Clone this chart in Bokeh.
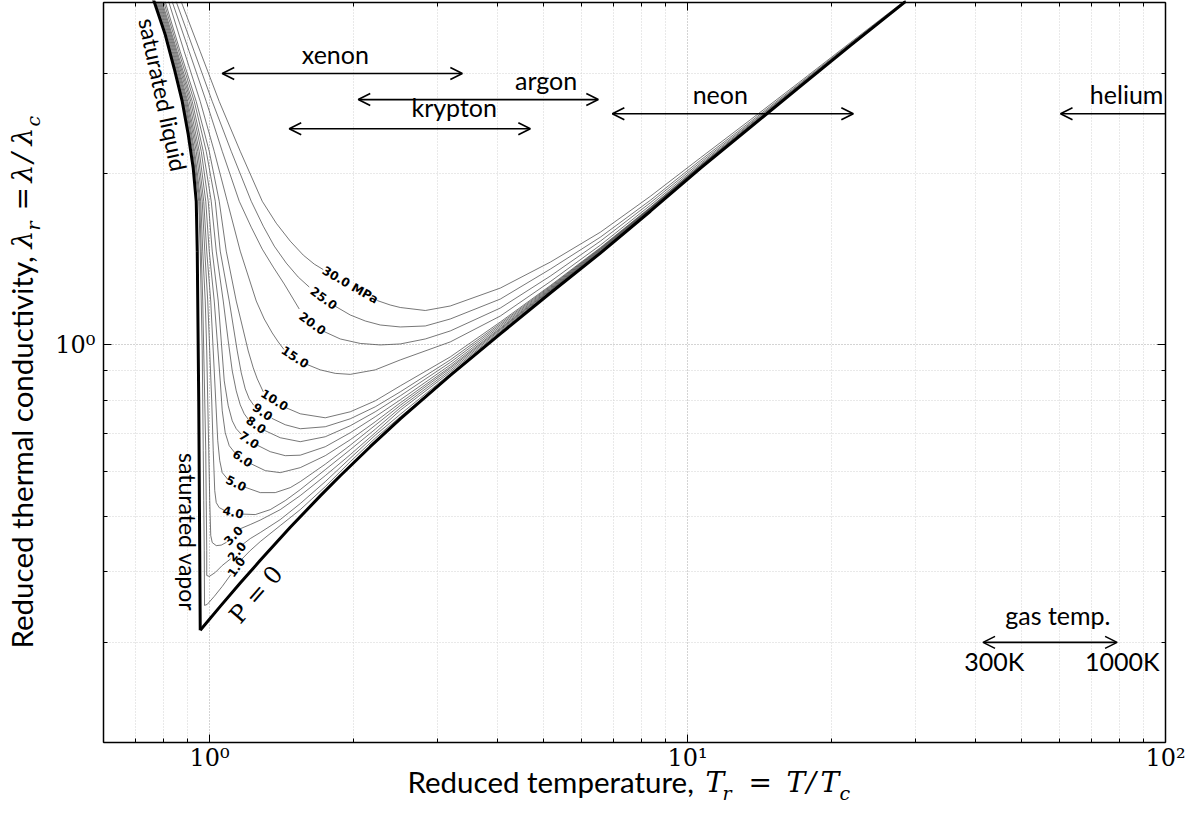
import math
from bokeh.plotting import figure
from bokeh.models import Range1d, LogAxis, FixedTicker, CustomJSTickFormatter, Label, Arrow, OpenHead
from bokeh.embed import file_html
from bokeh.resources import INLINE

nan = float("nan")

# ---------------- data (reduced temperature Tr, reduced conductivity lambda_r) ----------------
HI_TR = [3.189, 4.059, 5.165, 6.572, 8.361, 10.64, 13.53, 17.22, 21.91, 28.57]

SAT_LIQ_TR = [0.7513, 0.7660, 0.8077, 0.8435, 0.8767, 0.9025, 0.9245, 0.9379, 0.9425]
SAT_LIQ_LAM = [4.2125, 4.013, 3.5125, 3.0619, 2.680, 2.3449, 2.0443, 1.789, 1.462]
SAT_VAP_TR = [0.9425, 0.9493, 0.9562]
SAT_VAP_LAM = [1.462, 0.7975, 0.3150]
P0_TR = [0.9562, 1.0529, 1.1594, 1.2768, 1.4753, 1.7047, 1.8772, 2.1686, 2.5063, 3.1892,
         4.0588, 5.1651, 6.5722, 8.3612, 10.636, 13.532, 17.218, 21.909, 28.565]
P0_LAM = [0.3150, 0.3470, 0.3814, 0.4181, 0.4779, 0.5428, 0.5888, 0.6623, 0.7413, 0.8838,
          1.0459, 1.2339, 1.4502, 1.7182, 2.0443, 2.4130, 2.8476, 3.3598, 4.0134]

TR_01 = [0.7697, 0.8274, 0.8831, 0.9222, 0.9493, 0.9562, 0.9608, 0.9654, 0.9678, 0.9701,
         0.9724, 0.9748, 0.9762, 0.9890, 1.0229, 1.0631, 1.1074, nan, 1.1679, 1.2167, 1.2768,
         1.4059, 1.5481, 1.7463, 1.9697, 2.2215, 2.5063] + HI_TR
LAM_01 = [4.013, 3.279, 2.680, 2.190, 1.789, 1.462, 1.1945, 0.9760, 0.7975, 0.6518,
          0.5325, 0.4350, 0.3484, 0.3498, 0.3613, 0.3762, 0.3944, nan, 0.4200, 0.4350, 0.4511,
          0.4813, 0.5134, 0.5635, 0.6234, 0.6855, 0.7476,
          0.8849, 1.0496, 1.2369, 1.4531, 1.7209, 2.0468, 2.4149, 2.8487, 3.3611, 4.0150]

TR_02 = [0.7734, 0.8314, 0.8874, 0.9267, 0.9539, 0.9608, 0.9678, 0.9724, 0.9772, 0.9819,
         0.9842, 0.9866, 0.9866, 0.9986, 1.0279, 1.0631, 1.1069, nan, 1.1741, 1.2167, 1.2768,
         1.4059, 1.5481, 1.7463, 1.9697, 2.2215, 2.5063] + HI_TR
LAM_02 = [4.013, 3.279, 2.680, 2.190, 1.789, 1.462, 1.1945, 0.9760, 0.7975, 0.6518,
          0.5325, 0.4350, 0.3933, 0.3917, 0.3981, 0.4095, 0.4207, nan, 0.4462, 0.4566, 0.4679,
          0.4931, 0.5261, 0.5750, 0.6323, 0.6938, 0.7552,
          0.8899, 1.0534, 1.2404, 1.4560, 1.7234, 2.0484, 2.4169, 2.8504, 3.3618, 4.0150]

TR_03 = [0.7771, 0.8354, 0.8917, 0.9312, 0.9585, 0.9678, 0.9795, 0.9866, 0.9914, 0.9962,
         1.0010, 1.0058, 1.0131, 1.0328, 1.0580, 1.0853, nan, 1.1578, 1.2167, 1.2768, 1.4059,
         1.5481, 1.7463, 1.9697, 2.2215, 2.5063] + HI_TR
LAM_03 = [4.013, 3.279, 2.680, 2.190, 1.789, 1.462, 1.1945, 0.9760, 0.7975, 0.6518,
          0.5325, 0.4623, 0.4493, 0.4438, 0.4447, 0.4498, nan, 0.4749, 0.4833, 0.4921, 0.5134,
          0.5434, 0.5891, 0.6413, 0.7008, 0.7675,
          0.8960, 1.0569, 1.2434, 1.4590, 1.7259, 2.0508, 2.4188, 2.8516, 3.3625, 4.0150]

TR_04 = [0.7809, 0.8394, 0.8960, 0.9379, 0.9654, 0.9772, 0.9914, 1.0010, 1.0106, 1.0180,
         1.0254, 1.0328, 1.0478, 1.0718, nan, 1.1724, 1.2464, 1.3397, 1.4402, 1.5481, 1.7463,
         1.9697, 2.2215, 2.5063] + HI_TR
LAM_04 = [4.013, 3.279, 2.680, 2.190, 1.789, 1.462, 1.1945, 0.9760, 0.7975, 0.6518,
          0.5544, 0.5282, 0.5176, 0.5124, nan, 0.5042, 0.5032, 0.5134, 0.5325, 0.5567, 0.6036,
          0.6544, 0.7109, 0.7753,
          0.9025, 1.0624, 1.2470, 1.4619, 1.7287, 2.0535, 2.4207, 2.8533, 3.3632, 4.0150]

TR_05 = [0.7847, 0.8435, 0.9003, 0.9447, 0.9724, 0.9866, 1.0058, 1.0180, 1.0303, 1.0403,
         1.0504, 1.0631, 1.0911, nan, 1.1854, 1.2768, 1.3724, 1.4753, 1.5481, 1.7463, 1.9697,
         2.2215, 2.5063] + HI_TR
LAM_05 = [4.013, 3.279, 2.680, 2.190, 1.789, 1.462, 1.1945, 0.9760, 0.7975, 0.6786,
          0.6259, 0.5963, 0.5809, nan, 0.5623, 0.5500, 0.5500, 0.5612, 0.5750, 0.6171, 0.6664,
          0.7224, 0.7832,
          0.9095, 1.0667, 1.2499, 1.4648, 1.7314, 2.0560, 2.4227, 2.8544, 3.3638, 4.0158]

TR_06 = [0.7885, 0.8476, 0.9068, 0.9516, 0.9819, 0.9986, 1.0229, 1.0378, 1.0529, 1.0631,
         1.0785, 1.0996, 1.1291, nan, 1.2196, 1.3079, 1.4059, 1.5481, 1.7463, 1.9697, 2.2215,
         2.5063] + HI_TR
LAM_06 = [4.013, 3.279, 2.680, 2.190, 1.789, 1.462, 1.1945, 1.0163, 0.8646, 0.7660,
          0.7008, 0.6650, 0.6465, nan, 0.6184, 0.6012, 0.5963, 0.6085, 0.6387, 0.6813, 0.7327,
          0.7911,
          0.9150, 1.0710, 1.2540, 1.4685, 1.7342, 2.0584, 2.4248, 2.8561, 3.3652, 4.0158]

TR_07 = [0.7923, 0.8517, 0.9134, 0.9608, 0.9937, 1.0131, 1.0428, 1.0580, 1.0734, 1.0943,
         1.1156, 1.1373, 1.1651, nan, 1.2585, 1.3397, 1.4402, 1.5481, 1.7463, 1.9697, 2.2215,
         2.5063] + HI_TR
LAM_07 = [4.013, 3.279, 2.680, 2.190, 1.789, 1.462, 1.1945, 1.0163, 0.8646, 0.7816,
          0.7356, 0.7123, 0.6966, nan, 0.6664, 0.6491, 0.6387, 0.6400, 0.6623, 0.7008, 0.7476,
          0.8007,
          0.9225, 1.0775, 1.2581, 1.4720, 1.7371, 2.0609, 2.4268, 2.8579, 3.3652, 4.0166]

TR_08 = [0.7961, 0.8558, 0.9201, 0.9701, 1.0082, 1.0328, 1.0683, 1.0943, 1.1156, 1.1373,
         1.1594, 1.1820, 1.2050, nan, 1.3016, 1.4059, 1.5481, 1.7463, 1.9697, 2.2215,
         2.5063] + HI_TR
LAM_08 = [4.013, 3.279, 2.680, 2.190, 1.789, 1.462, 1.1945, 1.0163, 0.9003, 0.8304,
          0.7848, 0.7567, 0.7401, nan, 0.7079, 0.6868, 0.6759, 0.6896, 0.7210, 0.7629, 0.8138,
          0.9318, 1.0841, 1.2627, 1.4756, 1.7399, 2.0633, 2.4287, 2.8590, 3.3665, 4.0166]

TR_09 = [0.8019, 0.8620, 0.9290, 0.9842, 1.0279, 1.0529, 1.0996, 1.1210, 1.1428, 1.1651,
         1.1877, 1.2108, 1.2374, nan, 1.3494, 1.4402, 1.5481, 1.7463, 1.9697, 2.2215,
         2.5063] + HI_TR
LAM_09 = [4.013, 3.279, 2.680, 2.190, 1.789, 1.462, 1.1945, 1.0798, 0.9760, 0.8931,
          0.8372, 0.8040, 0.7832, nan, 0.7431, 0.7239, 0.7123, 0.7181, 0.7416, 0.7784, 0.8271,
          0.9413, 1.0907, 1.2672, 1.4792, 1.7426, 2.0660, 2.4306, 2.8604, 3.3679, 4.0174]

TR_10 = [0.8077, 0.8683, 0.9379, 0.9986, 1.0478, 1.0838, 1.1373, 1.1707, 1.2050, 1.2344,
         1.2585, 1.2954, nan, 1.4471, 1.5481, 1.7463, 1.9697, 2.2215, 2.5063] + HI_TR
LAM_10 = [4.013, 3.279, 2.680, 2.190, 1.789, 1.462, 1.1945, 1.0798, 0.9760, 0.9113,
          0.8716, 0.8271, nan, 0.7753, 0.7567, 0.7446, 0.7629, 0.7975, 0.8473,
          0.9527, 1.0974, 1.2718, 1.4828, 1.7462, 2.0692, 2.4325, 2.8627, 3.3692, 4.0182]

TR_15 = [0.8214, 0.8853, 0.9562, 1.0229, 1.0890, 1.1594, 1.2524, 1.3016, 1.3526, 1.3924,
         1.4312, nan, 1.5958, 1.7047, 1.8326, 1.9697, 2.2215, 2.5063] + HI_TR
LAM_15 = [4.013, 3.279, 2.680, 2.190, 1.789, 1.462, 1.1945, 1.1106, 1.0497, 1.0122,
          0.9816, nan, 0.9247, 0.9040, 0.8913, 0.8877, 0.9040, 0.9412,
          1.0123, 1.1243, 1.2925, 1.4979, 1.7603, 2.0801, 2.4424, 2.8707, 3.3763, 4.0230]

TR_20 = [0.8354, 0.9068, 0.9842, 1.0631, 1.1539, 1.2225, 1.2891, 1.3593, 1.4333, 1.4967,
         1.5407, nan, 1.7328, 1.8772, 2.0668, 2.2756, 2.5063, 2.8276] + HI_TR
LAM_20 = [4.013, 3.279, 2.680, 2.190, 1.789, 1.6107, 1.4738, 1.3705, 1.2796, 1.2043,
          1.1565, nan, 1.0565, 1.0245, 1.0061, 1.0000, 1.0040, 1.0245,
          1.0583, 1.1612, 1.3216, 1.5223, 1.7782, 2.0944, 2.4523, 2.8764, 3.3816, 4.0262]

TR_25 = [0.8517, 0.9290, 1.0131, 1.1102, 1.2225, 1.2954, 1.3658, 1.4471, 1.5333, 1.6167,
         nan, 1.8273, 1.9697, 2.1177, 2.2756, 2.5063, 2.8276] + HI_TR
LAM_25 = [4.013, 3.279, 2.680, 2.190, 1.789, 1.6172, 1.4918, 1.3929, 1.3161, 1.2641,
          nan, 1.1712, 1.1289, 1.1018, 1.0841, 1.0755, 1.0798,
          1.1108, 1.2042, 1.3595, 1.5471, 1.7962, 2.1116, 2.4673, 2.8880, 3.3870, 4.0295]

TR_30 = [0.8725, 0.9562, 1.0478, 1.1594, 1.2891, 1.3791, 1.4753, 1.5708, 1.6561, 1.7295,
         nan, 2.2429, 2.3880, 2.5063, 2.8276] + HI_TR
LAM_30 = [4.013, 3.279, 2.680, 2.190, 1.789, 1.6368, 1.5222, 1.4384, 1.3871, 1.3567,
          nan, 1.1969, 1.1755, 1.1637, 1.1496,
          1.1708, 1.2590, 1.3985, 1.5785, 1.8254, 2.1328, 2.4871, 2.9057, 3.4008, 4.0379]

ISOBAR_TR = [TR_01, TR_02, TR_03, TR_04, TR_05, TR_06, TR_07, TR_08, TR_09, TR_10, TR_15, TR_20, TR_25, TR_30]
ISOBAR_LAM = [LAM_01, LAM_02, LAM_03, LAM_04, LAM_05, LAM_06, LAM_07, LAM_08, LAM_09, LAM_10, LAM_15, LAM_20, LAM_25, LAM_30]

# isobar labels (MPa)
ISO_LABELS = ["1.0", "2.0", "3.0", "4.0", "5.0", "6.0", "7.0", "8.0", "9.0", "10.0", "15.0", "20.0", "25.0", "30.0 MPa"]
ISO_LABEL_TR = [1.137, 1.140, 1.121, 1.121, 1.137, 1.174, 1.211, 1.252, 1.292, 1.369, 1.511, 1.644, 1.734, 1.970]
ISO_LABEL_LAM = [0.407, 0.4332, 0.4624, 0.5083, 0.5715, 0.632, 0.681, 0.724, 0.763, 0.8006, 0.9527, 1.091, 1.209, 1.274]

# gas temperature ranges (300 K .. 1000 K) in reduced temperature
GAS_NAMES = ["xenon", "krypton", "argon", "neon", "helium"]
GAS_TR_LO = [1.063, 1.468, 2.047, 6.962, 60.3]
GAS_TR_HI = [3.380, 4.690, 6.507, 22.23, 100.0]
GAS_LAM = [3.0, 2.4, 2.7, 2.55, 2.55]

X_MAJOR = [1, 10, 100]
X_MINOR = [0.6, 0.7, 0.8, 0.9, 2, 3, 4, 5, 6, 7, 8, 9, 20, 30, 40, 50, 60, 70, 80, 90]
Y_MAJOR = [1]
Y_MINOR = [0.2, 0.3, 0.4, 0.5, 0.6, 0.7, 0.8, 0.9, 2, 3, 4]
MAJOR_TEXT = ["10\u2070", "10\u00b9", "10\u00b2"]

# ---------------- layout: the plot box sits inside a full-canvas frame ----------------
X0, X1, Y0, Y1 = 0.6, 100.0, 0.2, 4.0          # plot box limits
CW, CH = 1202, 820                              # canvas
BL, BR, BT, BB = 103, 1165, 2, 742              # plot box edges on the canvas
lx0, lx1, ly0, ly1 = math.log10(X0), math.log10(X1), math.log10(Y0), math.log10(Y1)
dpx = (BR - BL) / (lx1 - lx0)
dpy = (BB - BT) / (ly1 - ly0)
XMIN, XMAX = 10 ** (lx0 - BL / dpx), 10 ** (lx1 + (CW - BR) / dpx)
YMIN, YMAX = 10 ** (ly0 - (CH - BB) / dpy), 10 ** (ly1 + BT / dpy)

p = figure(frame_width=CW, frame_height=CH, x_axis_type="log", y_axis_type="log",
           x_range=Range1d(XMIN, XMAX), y_range=Range1d(YMIN, YMAX), min_border=0,
           output_backend="svg", toolbar_location=None)
p.background_fill_color = "white"
p.border_fill_color = "white"
p.outline_line_color = None

x_ticker = FixedTicker(ticks=X_MAJOR, minor_ticks=X_MINOR)
y_ticker = FixedTicker(ticks=Y_MAJOR, minor_ticks=Y_MINOR)
fmt = CustomJSTickFormatter(args=dict(vals=X_MAJOR, txt=MAJOR_TEXT), code="""
for (let i = 0; i < vals.length; i++) { if (Math.abs(tick - vals[i]) < 1e-6 * vals[i]) return txt[i]; }
return "";
""")
blank = CustomJSTickFormatter(code="return '';")

def style_axis(ax, tk, loc, bounds, labels=True):
    ax.ticker = tk
    ax.fixed_location = loc
    ax.bounds = bounds
    ax.major_tick_in = 8
    ax.major_tick_out = 0
    ax.minor_tick_in = 4
    ax.minor_tick_out = 0
    ax.axis_line_width = 1.5
    ax.axis_line_color = "black"
    ax.major_tick_line_width = 1
    ax.minor_tick_line_width = 1
    if labels:
        ax.formatter = fmt
        ax.major_label_text_font = "DejaVu Serif"
        ax.major_label_text_font_size = "24px"
        ax.major_label_text_color = "black"
    else:
        ax.formatter = blank
        ax.major_label_text_font_size = "0px"
        ax.major_label_standoff = 0

style_axis(p.xaxis[0], x_ticker, Y0, (X0, X1))
style_axis(p.yaxis[0], y_ticker, X0, (Y0, Y1))
p.xaxis[0].major_label_standoff = 1
p.yaxis[0].major_label_standoff = 8
top_ax = LogAxis()
style_axis(top_ax, x_ticker, Y1, (X0, X1), labels=False)
p.add_layout(top_ax, "above")
right_ax = LogAxis()
style_axis(right_ax, y_ticker, X1, (Y0, Y1), labels=False)
p.add_layout(right_ax, "right")

xg, yg = p.xgrid[0], p.ygrid[0]
xg.ticker, yg.ticker = x_ticker, y_ticker
xg.bounds, yg.bounds = (X0, X1), (Y0, Y1)
if "cross_bounds" in xg.properties():
    xg.cross_bounds, yg.cross_bounds = (Y0, Y1), (X0, X1)
    for g in (xg, yg):
        g.grid_line_color = "#a8a8a8"
        g.grid_line_dash = "1 2"
        g.grid_line_width = 1
        g.minor_grid_line_color = "#d2d2d2"
        g.minor_grid_line_dash = "1 2"
        g.minor_grid_line_width = 1
else:
    xg.visible = False
    yg.visible = False
    gx_major = [t for t in X_MAJOR if X0 < t < X1]
    gx_minor = [t for t in X_MINOR if X0 < t < X1]
    gy_major = [t for t in Y_MAJOR if Y0 < t < Y1]
    gy_minor = [t for t in Y_MINOR if Y0 < t < Y1]
    p.segment(x0=gx_minor, x1=gx_minor, y0=[Y0] * len(gx_minor), y1=[Y1] * len(gx_minor),
              line_color="#d2d2d2", line_dash="1 2", line_width=1)
    p.segment(x0=[X0] * len(gy_minor), x1=[X1] * len(gy_minor), y0=gy_minor, y1=gy_minor,
              line_color="#d2d2d2", line_dash="1 2", line_width=1)
    p.segment(x0=gx_major, x1=gx_major, y0=[Y0] * len(gx_major), y1=[Y1] * len(gx_major),
              line_color="#a8a8a8", line_dash="1 2", line_width=1)
    p.segment(x0=[X0] * len(gy_major), x1=[X1] * len(gy_major), y0=gy_major, y1=gy_major,
              line_color="#a8a8a8", line_dash="1 2", line_width=1)

# isobars
for trs, lams in zip(ISOBAR_TR, ISOBAR_LAM):
    p.line(trs, lams, line_color="#4a4a4a", line_width=0.75)

# saturation boundary and dilute-gas limit
p.line(SAT_LIQ_TR, SAT_LIQ_LAM, line_color="black", line_width=3)
p.line(SAT_VAP_TR, SAT_VAP_LAM, line_color="black", line_width=3)
p.line(P0_TR, P0_LAM, line_color="black", line_width=3)

# isobar labels
ISO_ANGLE_DEG = [55, 50, 45, -12, -25, -35, -35, -35, -35, -32, -33, -36, -36, -30]
for t, x, y, a in zip(ISO_LABELS, ISO_LABEL_TR, ISO_LABEL_LAM, ISO_ANGLE_DEG):
    p.add_layout(Label(x=x, y=y, text=t, angle=math.radians(a), text_align="center",
                       text_baseline="middle", text_font="DejaVu Sans", text_font_style="bold",
                       text_font_size="12px", text_color="black"))

SANS = "Lato"
BASE_SHIFT = 0.5   # em; compensates the renderer's baseline placement

def text(t, x, y, size, font=SANS, style="normal", align="center", angle=0.0):
    sh = BASE_SHIFT * size
    p.add_layout(Label(x=x, y=y, text=t, angle=angle, text_align=align,
                       text_baseline="alphabetic", text_font=font, text_font_style=style,
                       text_font_size=f"{size}px", text_color="black",
                       x_offset=-sh * math.sin(angle), y_offset=sh * math.cos(angle)))

# gas ranges
GAS_TEXT_TR = [1.833, 3.25, 5.06, 11.71, 99.0]
GAS_TEXT_LAM = [3.087, 2.492, 2.779, 2.627, 2.627]
GAS_ALIGN = ["center", "center", "center", "center", "right"]
for name, lo, hi, lam, tx, ty, al in zip(GAS_NAMES, GAS_TR_LO, GAS_TR_HI, GAS_LAM, GAS_TEXT_TR, GAS_TEXT_LAM, GAS_ALIGN):
    start = OpenHead(size=12, line_width=1.6) if name != "helium" else None
    p.add_layout(Arrow(x_start=hi, y_start=lam, x_end=lo, y_end=lam, line_width=1.6,
                       end=OpenHead(size=12, line_width=1.6), start=start))
    text(name, tx, ty, 25, align=al)

# gas temperature key
p.add_layout(Arrow(x_start=41.52, y_start=0.3, x_end=79.2, y_end=0.3, line_width=1.6,
                   start=OpenHead(size=12, line_width=1.6), end=OpenHead(size=12, line_width=1.6)))
text("gas temp.", 59.55, 0.3192, 25)
text("300K", 43.85, 0.2644, 25)
text("1000K", 81.17, 0.2644, 25)

# boundary labels
p.add_layout(Label(x=0.800, y=2.756, text="saturated liquid", angle=math.radians(-78),
                   text_align="center", text_baseline="middle", text_font=SANS,
                   text_font_size="23px", text_color="black"))
p.add_layout(Label(x=0.9003, y=0.4688, text="saturated vapor", angle=-math.pi / 2,
                   text_align="center", text_baseline="middle", text_font=SANS,
                   text_font_size="23px", text_color="black"))
p.add_layout(Label(x=1.252, y=0.364, text="P = 0", angle=math.radians(49),
                   text_align="center", text_baseline="middle", text_font="DejaVu Serif",
                   text_font_size="24px", text_color="black"))

# axis titles, placed from canvas-pixel layout positions
def at(cx, cy):
    return (10 ** (lx0 + (cx - BL) / dpx), 10 ** (ly1 - (cy - BT) / dpy))

MATH = "DejaVu Serif"
XT = [("Reduced temperature,", 407, 796, SANS, 29.5, "normal"),
      ("T", 705, 796, MATH, 28, "italic"),
      ("r", 722, 802, MATH, 19, "italic"),
      ("=", 748, 796, MATH, 28, "normal"),
      ("T", 786, 796, MATH, 28, "italic"),
      ("/", 806, 796, MATH, 28, "italic"),
      ("T", 820, 796, MATH, 28, "italic"),
      ("c", 839, 802, MATH, 19, "italic")]
for t, cx, cy, f, s, st in XT:
    x, y = at(cx, cy)
    text(t, x, y, s, font=f, style=st, align="left")

YT = [("Reduced thermal conductivity,", 36, 648, SANS, 29.5, "normal"),
      ("\u03bb", 36, 248, MATH, 28, "italic"),
      ("r", 42, 230, MATH, 19, "italic"),
      ("=", 36, 210, MATH, 28, "normal"),
      ("\u03bb", 36, 182, MATH, 28, "italic"),
      ("/", 36, 162, MATH, 28, "italic"),
      ("\u03bb", 36, 145, MATH, 28, "italic"),
      ("c", 42, 126, MATH, 19, "italic")]
for t, cx, cy, f, s, st in YT:
    x, y = at(cx, cy)
    text(t, x, y, s, font=f, style=st, align="left", angle=math.pi / 2)

open("out.html", "w").write(file_html(p, INLINE))
